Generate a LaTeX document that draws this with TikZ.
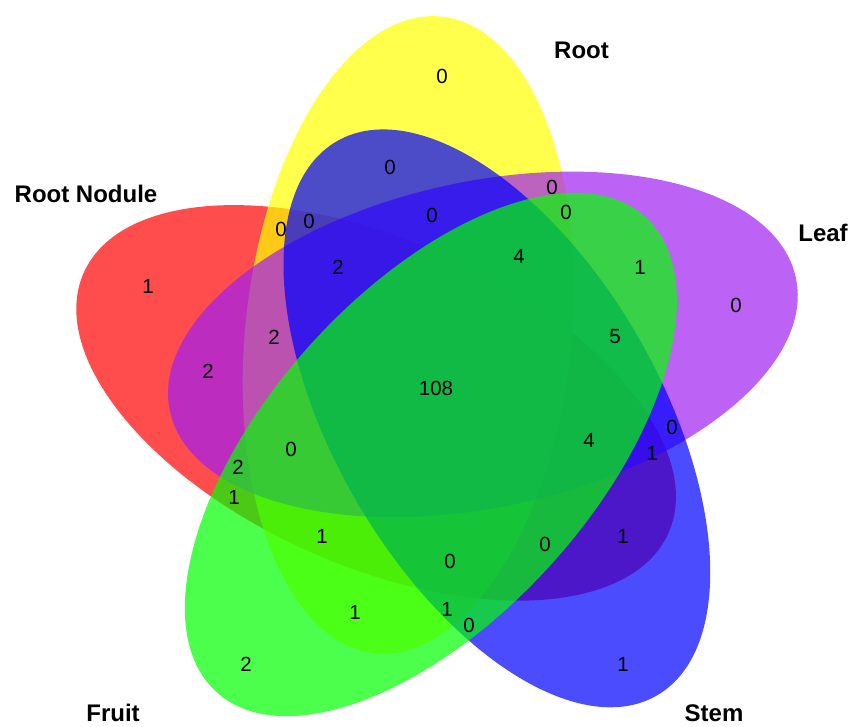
\documentclass[tikz,border=0pt]{standalone}
\usepackage{fontspec}
\setmainfont{Liberation Sans}
\begin{document}
\begin{tikzpicture}[x=1pt,y=1pt,
  num/.style={inner sep=0pt, font=\fontsize{20.5}{21}\selectfont},
  setlabel/.style={inner sep=0pt, font=\fontsize{24}{25}\selectfont\bfseries},
  petal/.style={fill opacity=0.7}]
\useasboundingbox (0,0) rectangle (848,726);
% five congruent ellipses rotated by 72 degrees about the centre
\coordinate (C) at (439,335);
\definecolor{cRed}{RGB}{255,0,0}
\definecolor{cYellow}{RGB}{255,255,0}
\definecolor{cPurple}{RGB}{160,32,240}
\definecolor{cBlue}{RGB}{0,0,255}
\definecolor{cGreen}{RGB}{0,255,0}
\foreach \k/\col in {4/cRed,0/cYellow,1/cPurple,2/cBlue,3/cGreen}{
  \begin{scope}[shift={(C)}, rotate={-72*\k}]
    \fill[petal, fill=\col, shift={(118.7:64)}, rotate=84] (0,0) ellipse [x radius=320, y radius=163];
  \end{scope}
}
% set labels
\node[setlabel] (lRoot) at (581.5,675.5) {Root};
\node[setlabel] (lLeaf) at (823,493) {Leaf};
\node[setlabel] (lNod) at (86,532.5) {Root Nodule};
\node[setlabel] (lFruit) at (113,13) {Fruit};
\node[setlabel] (lStem) at (714,13) {Stem};
% region counts
\node[num] (a1) at (442,650) {0};
\node[num] (a2) at (390,559) {0};
\node[num] (a3) at (552,539) {0};
\node[num] (a4) at (566,514) {0};
\node[num] (a5) at (281,497) {0};
\node[num] (a6) at (309,505) {0};
\node[num] (a7) at (432,511) {0};
\node[num] (a8) at (148,440) {1};
\node[num] (a9) at (338,459) {2};
\node[num] (a10) at (519,470) {4};
\node[num] (a11) at (640,459) {1};
\node[num] (a12) at (736,421) {0};
\node[num] (a13) at (274,389) {2};
\node[num] (a14) at (615,389) {5};
\node[num] (a15) at (208,355) {2};
\node[num] (a16) at (436,338) {108};
\node[num] (a17) at (672,299) {0};
\node[num] (a18) at (652,273) {1};
\node[num] (a19) at (589,286) {4};
\node[num] (a20) at (291,277) {0};
\node[num] (a21) at (238,259) {2};
\node[num] (a22) at (234,229) {1};
\node[num] (a23) at (322,190) {1};
\node[num] (a24) at (545,182) {0};
\node[num] (a25) at (623,190) {1};
\node[num] (a26) at (450,165) {0};
\node[num] (a27) at (355,114) {1};
\node[num] (a28) at (447,117) {1};
\node[num] (a29) at (469,101) {0};
\node[num] (a30) at (246,62) {2};
\node[num] (a31) at (623,62) {1};
\end{tikzpicture}
\end{document}
